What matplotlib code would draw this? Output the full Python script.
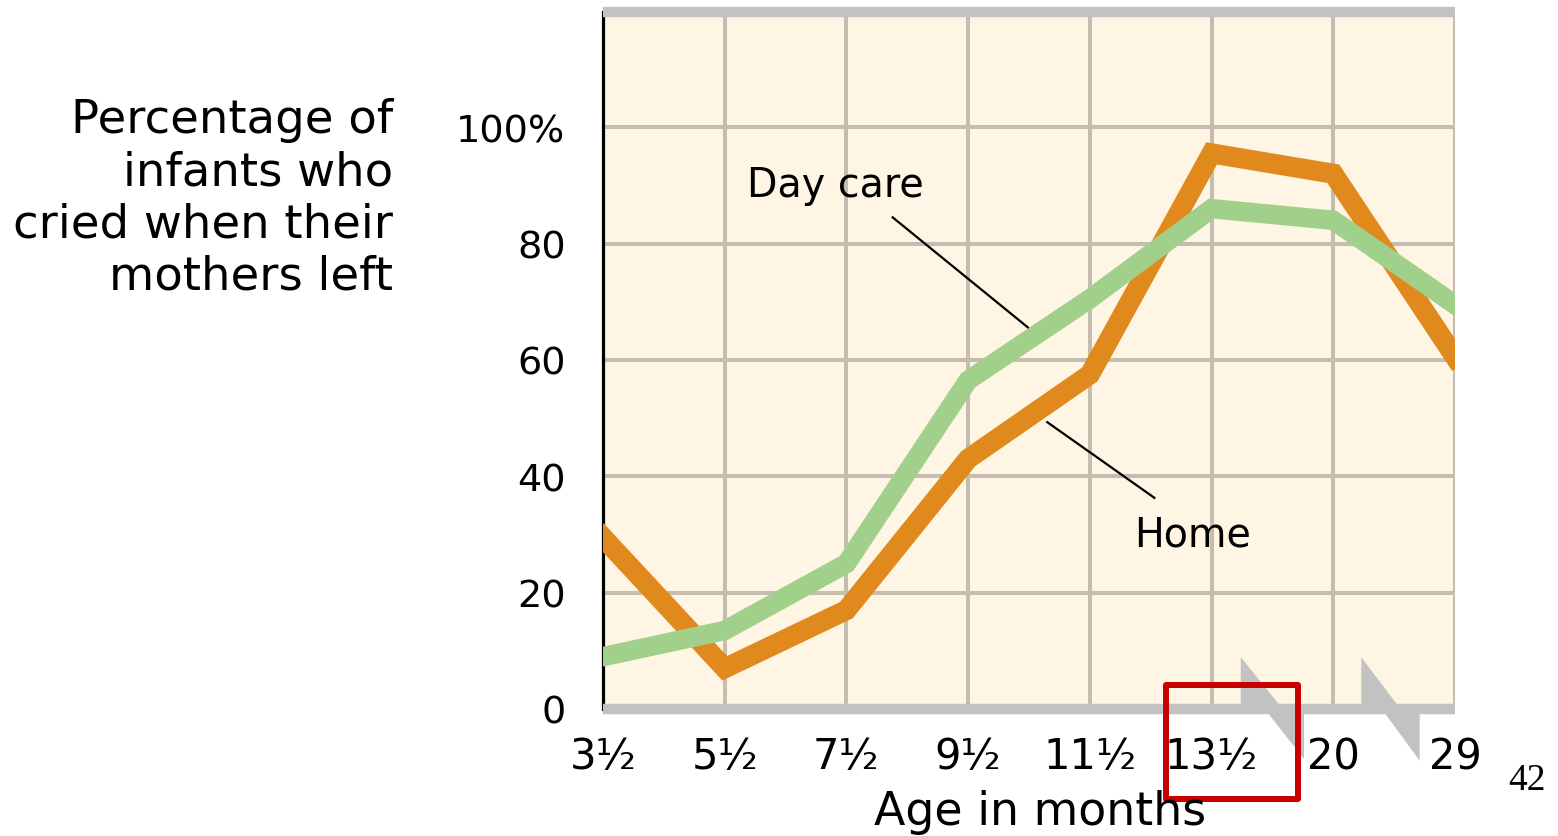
import matplotlib
matplotlib.use('Agg')
import matplotlib.pyplot as plt
from matplotlib.patches import Polygon, Rectangle

# ages (months) on the x axis, shown at evenly spaced slots
ages = ['3¹⁄₂', '5¹⁄₂', '7¹⁄₂', '9¹⁄₂', '11¹⁄₂', '13¹⁄₂', '20', '29']
home = [29.5, 7, 17, 43, 57.5, 95.5, 92, 60.5]
day_care = [9, 13.5, 25, 56.5, 70.5, 86, 84, 69.5]
y_ticks = [0, 20, 40, 60, 80, 100]
y_tick_labels = ['0', '20', '40', '60', '80', '100%']

CREAM = '#fef5e4'
GRID = '#c5bdb0'
BAR = '#c2c2c2'
ORANGE = '#e08a1e'
GREEN = '#a0d08a'

plt.rcParams['font.family'] = ['DejaVu Sans']

W, H = 1558, 837
fig = plt.figure(figsize=(W / 100, H / 100), dpi=100)
ax = fig.add_axes([603 / W, (H - 710) / H, (1455 - 603) / W, (710 - 13) / H])
ax.set_facecolor(CREAM)

x = list(range(len(ages)))
ax.plot(x, home, color=ORANGE, lw=14.5, solid_joinstyle='miter', zorder=3)
ax.plot(x, day_care, color=GREEN, lw=14, solid_joinstyle='miter', zorder=4)

ax.set_xlim(0, len(ages) - 1)
ax.set_ylim(0, 119.8)

ax.set_xticks(x)
ax.set_xticklabels(ages, fontsize=30)
ax.set_yticks(y_ticks)
ax.set_yticklabels(y_tick_labels, fontsize=27.5)
ax.tick_params(axis='x', length=0, pad=19)
ax.tick_params(axis='y', length=0, pad=27)

ax.grid(True, color=GRID, lw=2.9)
ax.set_axisbelow(True)

for s in ['right', 'bottom']:
    ax.spines[s].set_visible(False)
ax.spines['left'].set_color('black')
ax.spines['left'].set_linewidth(2.3)
ax.spines['top'].set_color(BAR)
ax.spines['top'].set_linewidth(7.5)
ax.spines['top'].set_capstyle('butt')
ax.spines['top'].set_zorder(6)

# bottom axis bar with two break marks (lightning shape)
x1 = len(ages) - 1
bar = [(0, -0.9), (5.47, -0.9), (5.76, -8.6), (5.76, -0.9),
       (6.43, -0.9), (6.71, -8.9), (6.71, -0.9), (x1, -0.9),
       (x1, 0.9), (6.52, 0.9), (6.23, 8.9), (6.23, 0.9),
       (5.55, 0.9), (5.24, 8.9), (5.24, 0.9), (0, 0.9)]
ax.add_patch(Polygon(bar, closed=True, facecolor=BAR, edgecolor='none',
                     clip_on=False, zorder=5))

# labels with pointer lines
ax.text(1.91, 90, 'Day care', fontsize=28.5, ha='center', va='center', zorder=7)
ax.plot([2.38, 3.49], [84.5, 65.6], color='black', lw=1.6, zorder=7)
ax.text(4.84, 30, 'Home', fontsize=28.5, ha='center', va='center', zorder=7)
ax.plot([3.65, 4.53], [49.3, 36.3], color='black', lw=1.6, zorder=7)

fig.text(393 / W, (H - 98) / H,
         'Percentage of\ninfants who\ncried when their\nmothers left',
         fontsize=33.5, ha='right', va='top', multialignment='right',
         linespacing=1.2)
fig.text(1040 / W, (H - 825) / H, 'Age in months', fontsize=33,
         ha='center', va='baseline')
fig.text(1527 / W, (H - 781) / H, '42', fontsize=27, ha='center',
         va='center', family='Liberation Serif')

fig.add_artist(Rectangle((1166 / W, (H - 800) / H), 132 / W, 114 / H,
                         transform=fig.transFigure, fill=False,
                         edgecolor='#c80000', lw=4.3, joinstyle='round'))

fig.savefig('out.png', dpi=100)
